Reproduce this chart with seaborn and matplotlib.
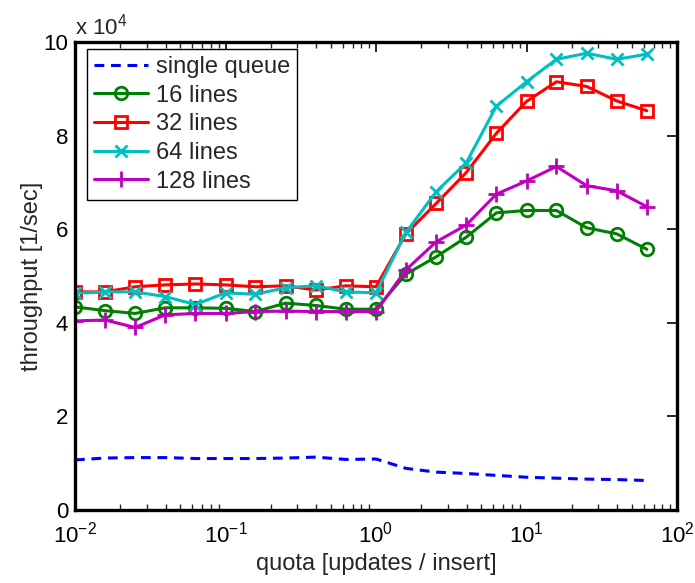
import numpy as np
import pandas as pd
import seaborn as sns
import matplotlib
matplotlib.use("Agg")
import matplotlib.pyplot as plt
from matplotlib.ticker import FuncFormatter, LogLocator, MultipleLocator, NullFormatter

quota = [0.01, 0.0158, 0.0251, 0.0398, 0.0631, 0.1, 0.158, 0.251, 0.398, 0.631,
         1.0, 1.58, 2.51, 3.98, 6.31, 10.0, 15.8, 25.1, 39.8, 63.1]

single_queue = [10700, 11100, 11200, 11200, 11000, 11000, 11000, 11100, 11300, 10800,
                10900, 8900, 8100, 7800, 7400, 7000, 6800, 6600, 6500, 6300]
lines_16 = [43400, 42600, 42000, 43200, 43200, 43100, 42400, 44200, 43700, 42900,
            42900, 50400, 54100, 58300, 63500, 64000, 64000, 60300, 59000, 55700]
lines_32 = [46600, 46600, 47700, 48100, 48300, 48100, 47700, 47900, 47000, 47900,
            47700, 59000, 65500, 72100, 80500, 87300, 91500, 90500, 87400, 85300]
lines_64 = [46300, 46600, 46600, 45600, 43900, 46400, 46100, 47500, 47900, 46600,
            46400, 59300, 68000, 74200, 86300, 91500, 96300, 97600, 96300, 97400]
lines_128 = [40400, 40600, 39000, 41700, 42000, 42000, 42400, 42500, 42400, 42400,
             42400, 51300, 57300, 60900, 67500, 70300, 73400, 69300, 68200, 64800]

series_names = ["single queue", "16 lines", "32 lines", "64 lines", "128 lines"]
series_values = [single_queue, lines_16, lines_32, lines_64, lines_128]
colors = ["#0000ff", "#008000", "#ff0000", "#00bfbf", "#bf00bf"]
markers = [None, "o", "s", "x", "+"]
msizes = [0, 9, 8, 9, 11]

sns.set_theme(style="white")
plt.rcParams["font.family"] = ["Liberation Sans", "DejaVu Sans"]
plt.rcParams["mathtext.fontset"] = "custom"
plt.rcParams["mathtext.rm"] = "Liberation Sans"
plt.rcParams["mathtext.it"] = "Liberation Sans:italic"

fig = plt.figure(figsize=(6.95, 5.83), dpi=100)
ax = fig.add_axes([75 / 695, 1 - 510 / 583, 602 / 695, 468 / 583])

for name, vals, c, m, ms in zip(series_names, series_values, colors, markers, msizes):
    df = pd.DataFrame({"quota": quota, "throughput": vals})
    kw = dict(x="quota", y="throughput", data=df, ax=ax, color=c, label=name,
              linewidth=2.2)
    if m is None:
        sns.lineplot(**kw, linestyle=(0, (3.2, 2.2)))
    else:
        sns.lineplot(**kw, marker=m, markersize=ms, markerfacecolor="none",
                     markeredgecolor=c, markeredgewidth=2)

ax.set_xscale("log")
ax.set_xlim(0.01, 100)
ax.set_ylim(0, 100000)
ax.yaxis.set_major_locator(MultipleLocator(20000))
ax.yaxis.set_major_formatter(FuncFormatter(lambda v, p: f"{v / 1e4:g}"))
ax.xaxis.set_major_locator(LogLocator(base=10, numticks=10))
ax.xaxis.set_minor_locator(LogLocator(base=10, subs=np.arange(2, 10), numticks=100))
ax.xaxis.set_minor_formatter(NullFormatter())

ax.tick_params(axis="both", which="major", direction="in", length=7, width=1.2,
               top=True, right=True, labelsize=16, colors="black")
ax.tick_params(axis="x", which="major", pad=8)
ax.tick_params(axis="y", which="major", pad=5)
ax.tick_params(axis="x", which="minor", direction="in", length=4, width=1.0,
               top=True, bottom=True)
for s in ax.spines.values():
    s.set_linewidth(2.4)
    s.set_color("black")

ax.set_xlabel("quota [updates / insert]", fontsize=17, labelpad=4)
ax.set_ylabel("throughput [1/sec]", fontsize=17, labelpad=0)
ax.text(0.0, 1.006, r"x 10$^{4}$", transform=ax.transAxes, fontsize=16,
        ha="left", va="bottom")

leg = ax.legend(loc="upper left", bbox_to_anchor=(0.02, 0.985), borderaxespad=0,
                fontsize=17, frameon=True, fancybox=False, framealpha=1,
                edgecolor="black", handlelength=2.3, handletextpad=0.3,
                labelspacing=0.28, borderpad=0.3)
leg.get_frame().set_linewidth(1.0)

fig.savefig("out.png", dpi=100, facecolor="white")
